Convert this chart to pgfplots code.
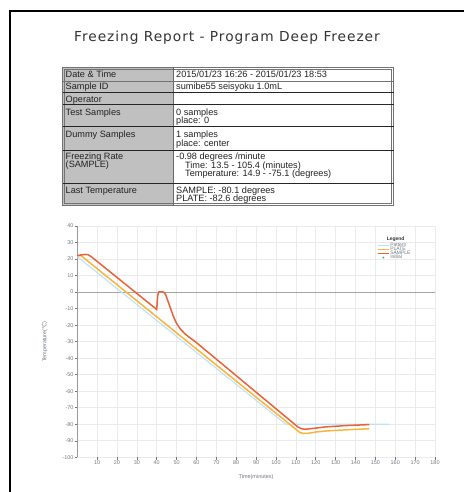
\documentclass[border=0pt]{standalone}
\usepackage{fontspec}
\setmainfont{Liberation Sans}
\newfontfamily\dv{DejaVu Sans}
\newfontfamily\dvt[LetterSpace=7]{DejaVu Sans}
\usepackage{pgfplots}
\pgfplotsset{compat=1.18}
\definecolor{pat}{HTML}{BFE0F5}
\definecolor{plate}{HTML}{F9B43C}
\definecolor{samp}{HTML}{E8633A}
\definecolor{cellgray}{HTML}{C0C0C0}
\definecolor{tickc}{HTML}{707880}
\definecolor{gridc}{HTML}{EAEAEA}
\definecolor{txt}{HTML}{222222}
\begin{document}
\begin{tikzpicture}
\path[use as bounding box] (0,0) rectangle (464bp,-492bp);
\draw[line width=1.3bp] (10bp,-492bp) -- (10bp,-11bp) -- (464bp,-11bp);
\node[font=\dvt\fontsize{13.8}{15}\selectfont, text=black!80, anchor=center, inner sep=0pt] at (227bp,-37.5bp) {Freezing Report - Program Deep Freezer};
% table
\fill[cellgray] (62.5bp,-67.5bp) rectangle (173.3bp,-205.5bp);
\draw[black!55, line width=0.8bp] (62.5bp,-67.5bp) rectangle (393.5bp,-205.5bp);
\draw[black!55, line width=0.8bp] (64.5bp,-69.5bp) rectangle (391.5bp,-203.5bp);
\draw[black!60, line width=0.8bp] (173.3bp,-67.5bp) -- (173.3bp,-205.5bp);
\draw[black!55, line width=0.8bp] (62.5bp,-81bp) -- (393.5bp,-81bp);
\foreach \y in {92.5,104.5,126.7,150.5,183.3}{
  \draw[black!85, line width=1.2bp] (62.5bp,-\y bp) -- (393.5bp,-\y bp);
}
\tikzset{tc/.style={anchor=west, inner sep=0pt, text height=6.6bp, text depth=1.9bp, text=txt, font=\fontsize{9.2}{9.5}\selectfont}}
\node[tc] at (65.5bp,-75.5bp) {Date \& Time};
\node[tc] at (176bp,-75.5bp) {2015/01/23 16:26 - 2015/01/23 18:53};
\node[tc] at (65.5bp,-87bp) {Sample ID};
\node[tc] at (176bp,-87bp) {sumibe55 seisyoku 1.0mL};
\node[tc] at (65.5bp,-100.5bp) {Operator};
\node[tc] at (65.5bp,-113bp) {Test Samples};
\node[tc] at (176bp,-113bp) {0 samples};
\node[tc] at (176bp,-121.5bp) {place: 0};
\node[tc] at (65.5bp,-135.5bp) {Dummy Samples};
\node[tc] at (176bp,-135.5bp) {1 samples};
\node[tc] at (176bp,-144bp) {place: center};
\node[tc] at (65.5bp,-157bp) {Freezing Rate};
\node[tc] at (65.5bp,-165bp) {(SAMPLE)};
\node[tc] at (176bp,-157bp) {-0.98 degrees /minute};
\node[tc] at (185bp,-165.7bp) {Time: 13.5 - 105.4 (minutes)};
\node[tc] at (185bp,-174.3bp) {Temperature: 14.9 - -75.1 (degrees)};
\node[tc] at (65.5bp,-191bp) {Last Temperature};
\node[tc] at (176bp,-191bp) {SAMPLE: -80.1 degrees};
\node[tc] at (176bp,-199.5bp) {PLATE: -82.6 degrees};
% chart
\begin{axis}[
 at={(77.2bp,-457.3bp)}, anchor=south west,
 scale only axis, width=357.8bp, height=231.3bp,
 xmin=0, xmax=180, ymin=-100, ymax=40,
 xtick={10,20,...,180}, ytick={-100,-90,...,40},
 grid=major, major grid style={gridc, line width=0.6bp},
 axis line style={draw=none},
 tick pos=left, tick align=outside, major tick length=2.5bp,
 tick style={tickc, line width=0.5bp},
 ticklabel style={font=\fontsize{5.5}{6}\selectfont, text=tickc, inner sep=1bp},
 /pgf/number format/assume math mode=true,
 extra x ticks={0}, extra x tick labels={},
 extra x tick style={major grid style={black!40, line width=1.1bp}, major tick length=0pt},
 extra y ticks={0}, extra y tick labels={},
 extra y tick style={major grid style={black!35, line width=0.8bp}, major tick length=0pt},
 xlabel={Time(minutes)}, ylabel={Temperature({\dv ℃})},
 label style={font=\fontsize{5.5}{6}\selectfont, text=tickc},
 xlabel style={at={(axis description cs:0.5,-0.0852)}, anchor=center},
 ylabel style={at={(axis description cs:-0.09,0.5)}, anchor=center},
 legend style={at={(0.838,0.93)}, anchor=north west, draw=none, fill=none,
   font=\fontsize{5}{5.5}\selectfont, text=tickc, row sep=-2.6bp, inner sep=0pt,
   nodes={inner sep=0.8bp}},
 legend cell align=left,
 legend image code/.code={\draw[#1, line width=1.3bp] (0bp,0bp) -- (11bp,0bp);},
]
\addplot[pat, line width=1.1bp] coordinates {(0,21.5) (105,-80) (157,-80)};
\addlegendentry{Pattern}
\addplot[plate, line width=1.5bp] coordinates {
(0,22) (2,22) (112,-85) (114,-85.6) (116,-85.5) (120,-84.7) (125,-84.1) (130,-83.7) (140,-83.1) (147,-82.7)};
\addlegendentry{PLATE}
\addplot[samp, line width=1.5bp] coordinates {
(0,22) (2,22.5) (4,22.8) (5.5,22.6) (7,21.5) (40,-10.5) (40.5,-2) (41,0) (42,0.3) (43.5,0)
(44.5,-1.5) (45.5,-5) (47,-10) (48.5,-15) (50,-19) (52,-22.5) (54,-25) (56,-27) (58,-28.8)
(60,-30.6) (111,-81.6) (113,-82.8) (115,-83) (118,-82.6) (125,-81.6) (135,-80.8) (147,-80.2)};
\addlegendentry{SAMPLE}
\addlegendimage{legend image code/.code={\fill[tickc!70!cyan] (5.5bp,0bp) circle (0.7bp);}}
\addlegendentry{Initial}
\node[font=\fontsize{5}{5.5}\selectfont\bfseries, text=black!80] at (rel axis cs:0.89,0.944) {Legend};
\end{axis}
\end{tikzpicture}
\end{document}
